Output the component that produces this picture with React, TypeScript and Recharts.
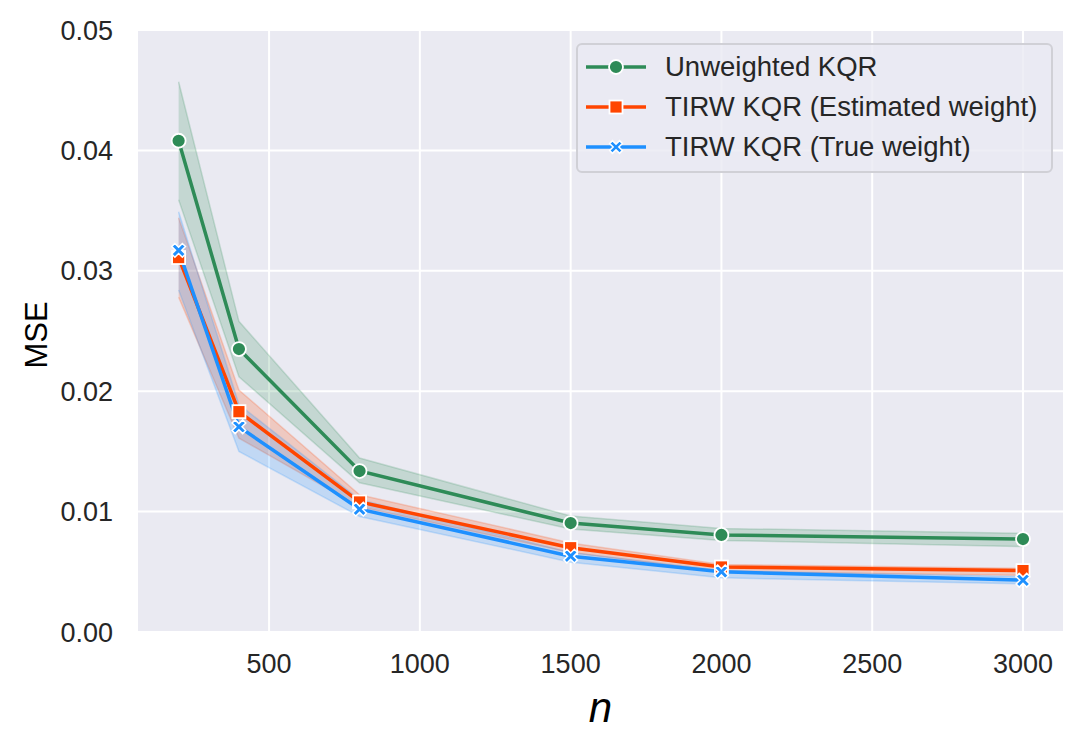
import React from "react";
import {
  ComposedChart,
  Line,
  Area,
  XAxis,
  YAxis,
  CartesianGrid,
  Legend,
  Label,
} from "recharts";

const nValues = [200, 400, 800, 1500, 2000, 3000];
const unweightedMean = [0.0408, 0.0235, 0.01337, 0.00905, 0.00806, 0.00772];
const unweightedLow = [0.0359, 0.0212, 0.0124, 0.00855, 0.0076, 0.0071];
const unweightedHigh = [0.0457, 0.0258, 0.01445, 0.00963, 0.0086, 0.0082];
const estimatedMean = [0.0311, 0.0183, 0.0108, 0.007, 0.0054, 0.0051];
const estimatedLow = [0.0278, 0.0161, 0.0104, 0.0066, 0.005, 0.0047];
const estimatedHigh = [0.0344, 0.0201, 0.0114, 0.0074, 0.0056, 0.0053];
const trueMean = [0.0317, 0.01705, 0.0102, 0.0063, 0.005, 0.0043];
const trueLow = [0.0284, 0.015, 0.0096, 0.0058, 0.0045, 0.004];
const trueHigh = [0.0349, 0.0189, 0.011, 0.0066, 0.0051, 0.0046];

const xTicks = [500, 1000, 1500, 2000, 2500, 3000];
const yTicks = [0, 0.01, 0.02, 0.03, 0.04, 0.05];
const seriesNames = [
  "Unweighted KQR",
  "TIRW KQR (Estimated weight)",
  "TIRW KQR (True weight)",
];

const GREEN = "#2E8B57";
const ORANGE = "#FF4500";
const BLUE = "#1E90FF";
const FONT = "'Liberation Sans', Arial, sans-serif";
const TEXT = "#262626";

const data = nValues.map((n, i) => ({
  n,
  u: unweightedMean[i],
  uBand: [unweightedLow[i], unweightedHigh[i]],
  e: estimatedMean[i],
  eBand: [estimatedLow[i], estimatedHigh[i]],
  t: trueMean[i],
  tBand: [trueLow[i], trueHigh[i]],
}));

function xPoints(cx: number, cy: number, r: number, a: number) {
  const base = [
    [-a, r], [a, r], [a, a], [r, a], [r, -a], [a, -a],
    [a, -r], [-a, -r], [-a, -a], [-r, -a], [-r, a], [-a, a],
  ];
  const c = Math.SQRT1_2;
  return base
    .map(([x, y]) => `${cx + (x - y) * c},${cy + (x + y) * c}`)
    .join(" ");
}

const CircleDot = (props: any) => {
  const { cx, cy, key } = props;
  if (cx == null || cy == null) return <g key={key} />;
  return <circle key={key} cx={cx} cy={cy} r={7} fill={GREEN} stroke="#fff" strokeWidth={1.8} />;
};
const SquareDot = (props: any) => {
  const { cx, cy, key } = props;
  if (cx == null || cy == null) return <g key={key} />;
  return <rect key={key} x={cx - 6.5} y={cy - 6.5} width={13} height={13} fill={ORANGE} stroke="#fff" strokeWidth={1.8} />;
};
const XDot = (props: any) => {
  const { cx, cy, key } = props;
  if (cx == null || cy == null) return <g key={key} />;
  return <polygon key={key} points={xPoints(cx, cy, 7.5, 2.2)} fill={BLUE} stroke="#fff" strokeWidth={1.5} />;
};

const LegendContent = () => {
  const colors = [GREEN, ORANGE, BLUE];
  return (
    <div
      style={{
        boxSizing: "border-box",
        width: 477,
        height: 130,
        background: "rgba(234,234,242,0.8)",
        border: "2px solid #d0d0d6",
        borderRadius: 6,
        fontFamily: FONT,
        fontSize: 27.5,
        color: TEXT,
        position: "relative",
      }}
    >
      {seriesNames.map((name, i) => (
        <div
          key={name}
          style={{
            position: "absolute",
            left: 0,
            top: 2 + i * 40,
            height: 40,
            display: "flex",
            alignItems: "center",
            whiteSpace: "nowrap",
          }}
        >
          <svg width={87} height={40} style={{ display: "block" }}>
            <line x1={8} x2={68} y1={20} y2={20} stroke={colors[i]} strokeWidth={3.5} />
            {i === 0 && <circle cx={38} cy={20} r={7} fill={GREEN} stroke="#fff" strokeWidth={1.8} />}
            {i === 1 && <rect x={31.5} y={13.5} width={13} height={13} fill={ORANGE} stroke="#fff" strokeWidth={1.8} />}
            {i === 2 && <polygon points={xPoints(38, 20, 7, 2)} fill={BLUE} stroke="#fff" strokeWidth={1.5} />}
          </svg>
          <span>{name}</span>
        </div>
      ))}
    </div>
  );
};

export default function App() {
  return (
    <div style={{ position: "absolute", left: 0, top: 0, width: 1085, height: 748, background: "#fff" }}>
      <ComposedChart
        width={1085}
        height={748}
        data={data}
        margin={{ top: 30, right: 21, bottom: 0, left: 0 }}
      >
        <CartesianGrid fill="#EAEAF2" stroke="#fff" strokeWidth={2} />
        <XAxis
          dataKey="n"
          type="number"
          domain={[62, 3136]}
          ticks={xTicks}
          allowDataOverflow
          height={116}
          axisLine={false}
          tickLine={false}
          tickMargin={16}
          tick={{ fill: TEXT, fontSize: 27, fontFamily: FONT }}
        >
          <Label
            content={(p: any) => {
              const vb = p.viewBox || {};
              return (
                <text
                  x={vb.x + vb.width / 2}
                  y={722}
                  textAnchor="middle"
                  fill="#000"
                  style={{ fontFamily: FONT, fontSize: 42, fontStyle: "italic" }}
                >
                  n
                </text>
              );
            }}
          />
        </XAxis>
        <YAxis
          type="number"
          domain={[0, 0.05]}
          ticks={yTicks}
          width={137}
          axisLine={false}
          tickLine={false}
          tickMargin={18}
          tickFormatter={(v: number) => v.toFixed(2)}
          tick={{ fill: TEXT, fontSize: 27, fontFamily: FONT }}
        >
          <Label
            content={(p: any) => {
              const vb = p.viewBox || {};
              const cx = 46.5;
              const cy = vb.y + vb.height / 2 + 4;
              return (
                <text
                  x={cx}
                  y={cy}
                  textAnchor="middle"
                  transform={`rotate(-90 ${cx} ${cy})`}
                  fill="#000"
                  style={{ fontFamily: FONT, fontSize: 31 }}
                >
                  MSE
                </text>
              );
            }}
          />
        </YAxis>
        <Legend
          layout="vertical"
          align="center"
          verticalAlign="middle"
          content={<LegendContent />}
          wrapperStyle={{ left: 576, top: 43, width: 477, height: 130 }}
        />
        <Area
          type="linear"
          dataKey="uBand"
          fill={GREEN}
          fillOpacity={0.2}
          stroke={GREEN}
          strokeOpacity={0.2}
          strokeWidth={1.5}
          isAnimationActive={false}
          legendType="none"
        />
        <Line
          type="linear"
          dataKey="u"
          stroke={GREEN}
          strokeWidth={3.5}
          dot={CircleDot}
          activeDot={false}
          isAnimationActive={false}
        />
        <Area
          type="linear"
          dataKey="eBand"
          fill={ORANGE}
          fillOpacity={0.2}
          stroke={ORANGE}
          strokeOpacity={0.2}
          strokeWidth={1.5}
          isAnimationActive={false}
          legendType="none"
        />
        <Line
          type="linear"
          dataKey="e"
          stroke={ORANGE}
          strokeWidth={3.5}
          dot={SquareDot}
          activeDot={false}
          isAnimationActive={false}
        />
        <Area
          type="linear"
          dataKey="tBand"
          fill={BLUE}
          fillOpacity={0.2}
          stroke={BLUE}
          strokeOpacity={0.2}
          strokeWidth={1.5}
          isAnimationActive={false}
          legendType="none"
        />
        <Line
          type="linear"
          dataKey="t"
          stroke={BLUE}
          strokeWidth={3.5}
          dot={XDot}
          activeDot={false}
          isAnimationActive={false}
        />
      </ComposedChart>
    </div>
  );
}
